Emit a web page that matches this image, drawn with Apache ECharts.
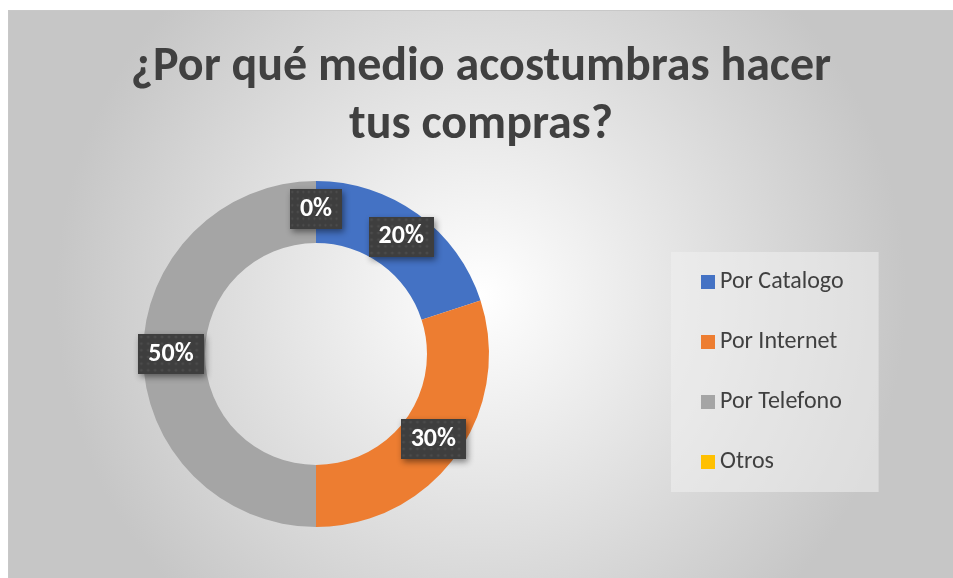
<!DOCTYPE html>
<html>
<head>
<meta charset="utf-8">
<script src="https://cdn.jsdelivr.net/npm/echarts@6/dist/echarts.min.js"></script>
<style>
  html, body { margin: 0; padding: 0; background: #ffffff; }
  #chart {
    position: absolute;
    left: 8px;
    top: 10px;
    width: 945px;
    height: 568px;
    border-top: 1px solid #c8c8c8;
    border-left: 1px solid #c8c8c8;
    box-sizing: border-box;
  }
</style>
</head>
<body>
<div id="chart"></div>
<script>
var titleText = "¿Por qué medio acostumbras hacer\ntus compras?";
var categories = ["Por Catalogo", "Por Internet", "Por Telefono", "Otros"];
var values = [20, 30, 50, 0];
var colors = ["#4472C4", "#ED7D31", "#A5A5A5", "#FFC000"];

var myChart = echarts.init(document.getElementById("chart"));
var font = "Carlito, 'Liberation Sans', 'Open Sans', sans-serif";

// fondo punteado de las etiquetas
var dots = document.createElement("canvas");
dots.width = 66;
dots.height = 42;
var ctx = dots.getContext("2d");
ctx.fillStyle = "#3e3e3e";
ctx.fillRect(0, 0, dots.width, dots.height);
ctx.fillStyle = "rgba(255,255,255,0.07)";
for (var yy = 3; yy < dots.height; yy += 7) {
  for (var xx = 3; xx < dots.width; xx += 7) {
    ctx.beginPath();
    ctx.arc(xx, yy, 1.6, 0, Math.PI * 2);
    ctx.fill();
  }
}

var pieData = categories.map(function (name, i) {
  return { name: name, value: values[i], itemStyle: { color: colors[i] } };
});

var option = {
  animation: false,
  backgroundColor: {
    type: "radial",
    x: 0.5, y: 0.5, r: 0.75,
    colorStops: [
      { offset: 0, color: "#ffffff" },
      { offset: 1, color: "#c6c6c6" }
    ]
  },
  title: {
    text: titleText,
    left: "center",
    top: 23,
    textStyle: {
      fontFamily: font,
      fontSize: 48,
      fontWeight: "bold",
      color: "#404040",
      lineHeight: 58
    }
  },
  legend: {
    orient: "vertical",
    left: 662,
    top: 241,
    padding: [18, 35, 18, 30],
    itemGap: 36,
    itemWidth: 14,
    itemHeight: 14,
    icon: "rect",
    backgroundColor: "rgba(240,240,240,0.55)",
    textStyle: { fontFamily: font, fontSize: 24, color: "#404040", lineHeight: 24 },
    data: categories
  },
  series: [
    {
      type: "pie",
      center: [307, 343],
      radius: [111, 173],
      startAngle: 90,
      clockwise: true,
      avoidLabelOverlap: false,
      itemStyle: { borderWidth: 0 },
      label: {
        show: true,
        position: "inside",
        formatter: "{d}%",
        fontFamily: font,
        fontSize: 26,
        fontWeight: "bold",
        color: "#ffffff",
        backgroundColor: { image: dots },
        padding: [8, 10, 6, 10],
        shadowColor: "rgba(0,0,0,0.45)",
        shadowBlur: 6,
        shadowOffsetX: 2,
        shadowOffsetY: 3
      },
      labelLine: { show: false },
      emphasis: { scale: false },
      data: pieData
    }
  ]
};
option && myChart.setOption(option);
</script>
</body>
</html>
